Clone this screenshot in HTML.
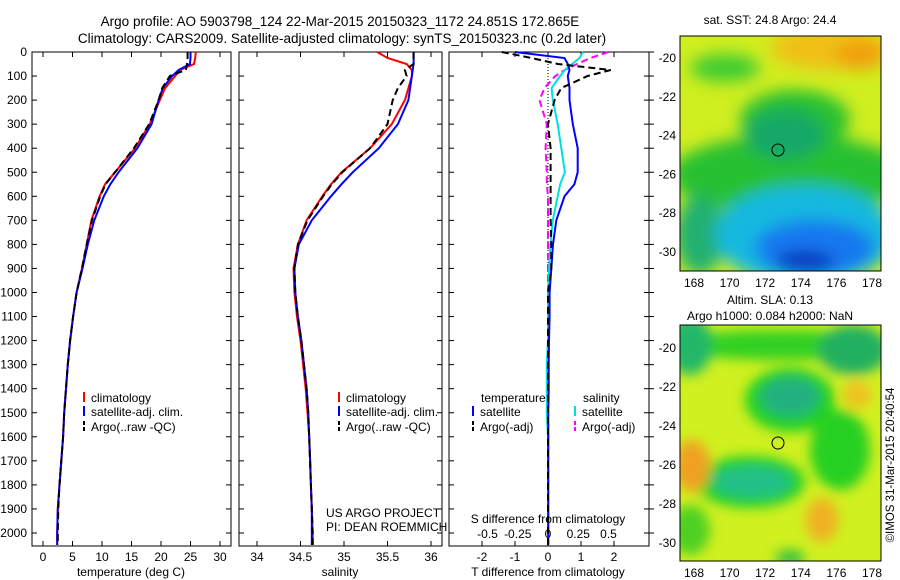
<!DOCTYPE html>
<html><head><meta charset="utf-8"><style>
body{margin:0;background:#fff;}
svg{display:block;font-family:"Liberation Sans",sans-serif;}
</style></head><body>
<svg id="fig" width="900" height="580" viewBox="0 0 900 580">
<defs>
<filter id="bl1" x="-50%" y="-50%" width="200%" height="200%"><feGaussianBlur stdDeviation="8"/></filter>
<filter id="bl2" x="-50%" y="-50%" width="200%" height="200%"><feGaussianBlur stdDeviation="6"/></filter>
<clipPath id="c1"><rect x="680" y="36" width="201" height="235"/></clipPath>
<clipPath id="c2"><rect x="680" y="325" width="201" height="236"/></clipPath>
</defs>
<text x="340" y="26" font-size="13.5" text-anchor="middle">Argo profile: AO 5903798_124 22-Mar-2015 20150323_1172 24.851S 172.865E</text>
<text x="342" y="43" font-size="13.5" text-anchor="middle">Climatology: CARS2009. Satellite-adjusted climatology: synTS_20150323.nc (0.2d later)</text>
<g id="axes"></g>
<g id="lines"></g>

<g clip-path="url(#c1)">
<rect x="680" y="36" width="201" height="235" fill="#d0ee20"/>
<g filter="url(#bl1)">
<ellipse cx="830" cy="48" rx="60" ry="22" fill="#f0c018"/>
<ellipse cx="860" cy="55" rx="25" ry="15" fill="#f0a010"/>
<ellipse cx="725" cy="68" rx="35" ry="14" fill="#40cc30"/>
<ellipse cx="790" cy="175" rx="120" ry="40" fill="#28c030"/>
<ellipse cx="795" cy="120" rx="55" ry="30" fill="#28c030"/>
<ellipse cx="785" cy="135" rx="40" ry="25" fill="#18a868"/>
<ellipse cx="700" cy="235" rx="25" ry="40" fill="#20b070"/>
<ellipse cx="805" cy="235" rx="90" ry="50" fill="#18b8e0"/>
<ellipse cx="815" cy="248" rx="60" ry="28" fill="#1878f0"/>
<ellipse cx="805" cy="262" rx="30" ry="12" fill="#0838c0"/>
</g>
<circle cx="778" cy="150" r="6" fill="none" stroke="#000"/>
</g>
<rect x="680" y="36" width="201" height="235" fill="none" stroke="#000"/>
<text x="770" y="24" font-size="12" text-anchor="middle">sat. SST: 24.8 Argo: 24.4</text>

<g clip-path="url(#c2)">
<rect x="680" y="325" width="201" height="236" fill="#d0f020"/>
<g filter="url(#bl2)">
<ellipse cx="780" cy="345" rx="110" ry="15" fill="#30d020"/>
<ellipse cx="690" cy="345" rx="22" ry="30" fill="#20b868"/>
<ellipse cx="853" cy="350" rx="35" ry="25" fill="#20b060"/>
<ellipse cx="790" cy="400" rx="45" ry="32" fill="#20d020"/>
<ellipse cx="790" cy="397" rx="30" ry="20" fill="#20b080"/>
<ellipse cx="840" cy="450" rx="30" ry="40" fill="#28d020"/>
<ellipse cx="750" cy="482" rx="55" ry="26" fill="#20d020"/>
<ellipse cx="752" cy="482" rx="40" ry="16" fill="#20c088"/>
<ellipse cx="690" cy="530" rx="20" ry="25" fill="#50d020"/>
<ellipse cx="692" cy="466" rx="18" ry="26" fill="#f0a020"/>
<ellipse cx="822" cy="520" rx="16" ry="22" fill="#f0b020"/>
<ellipse cx="857" cy="395" rx="14" ry="14" fill="#f0c020"/>
<ellipse cx="790" cy="558" rx="15" ry="8" fill="#30c040"/>
</g>
<circle cx="778" cy="443" r="6" fill="none" stroke="#000"/>
</g>
<rect x="680" y="325" width="201" height="236" fill="none" stroke="#000"/>
<text x="770" y="304" font-size="12" text-anchor="middle">Altim. SLA: 0.13</text>
<text x="770" y="320" font-size="12" text-anchor="middle">Argo h1000: 0.084 h2000: NaN</text>
<text transform="translate(894,465) rotate(-90)" font-size="11.5" text-anchor="middle">©IMOS 31-Mar-2015 20:40:54</text>

<text x="326" y="517" font-size="12">US ARGO PROJECT</text>
<text x="326" y="531" font-size="12">PI: DEAN ROEMMICH</text>
</svg>
<script>
// depth levels (dbar)
const depths = [0,25,50,75,100,150,200,300,400,500,550,600,700,800,900,1000,1100,1200,1300,1400,1500,1600,1700,1800,1900,2000,2050];
const tempClim = [25.9,25.8,25.6,23.2,22.4,20.7,19.8,18.1,15.6,12.2,10.5,9.6,8.2,7.4,6.6,5.7,5.1,4.6,4.2,3.9,3.6,3.4,3.1,2.8,2.5,2.4,2.4];
const tempSat  = [25.0,25.0,24.9,23.0,21.9,20.3,19.6,18.4,16.0,12.8,11.4,10.3,8.7,7.6,6.7,5.7,5.1,4.6,4.2,3.9,3.6,3.4,3.1,2.8,2.5,2.4,2.4];
const tempArgo = [24.5,24.5,24.4,24.2,21.5,20.2,19.6,18.0,15.4,12.2,10.6,9.7,8.3,7.4,6.6,5.7,5.1,4.6,4.2,3.9,3.6,3.4,3.1,2.8,2.6,2.5,2.5];
const salClim = [35.38,35.5,35.72,35.78,35.78,35.74,35.7,35.55,35.3,34.97,34.85,34.75,34.57,34.47,34.42,34.43,34.46,34.5,34.53,34.56,34.58,34.6,34.61,34.62,34.63,34.64,34.64];
const salSat  = [35.8,35.8,35.8,35.79,35.78,35.76,35.74,35.62,35.4,35.1,34.97,34.85,34.63,34.48,34.43,34.44,34.47,34.51,34.54,34.57,34.59,34.6,34.61,34.62,34.63,34.63,34.63];
const salArgo = [35.8,35.8,35.8,35.7,35.72,35.62,35.56,35.5,35.3,34.98,34.86,34.76,34.58,34.47,34.43,34.44,34.47,34.51,34.54,34.57,34.59,34.6,34.61,34.62,34.63,34.64,34.64];
const dTsat  = [-1.0,0.5,0.6,0.65,0.6,0.65,0.65,0.75,0.9,0.9,0.8,0.5,0.25,0.15,0.1,0.05,0.05,0.03,0.02,0.02,0.01,0.01,0.01,0.01,0.01,0.01,0.01];
const dTargo = [-1.4,-0.5,0.3,1.9,1.2,0.4,0.2,0.0,0.08,0.08,0.08,0.08,0.08,0.1,0.1,0.0,0.0,0.0,0.0,0.0,0.0,0.0,0.0,0.0,0.0,0.0,0.0];
const dSsat  = [0.29,0.26,0.2,0.14,0.1,0.03,0.04,0.08,0.11,0.14,0.1,0.08,0.04,0.02,0.01,0.0,0.0,0.0,-0.01,-0.01,-0.01,0.0,0.0,0.0,0.0,0.0,0.0];
const dSargo = [0.5,0.35,0.24,0.14,0.06,-0.03,-0.07,-0.01,-0.02,-0.01,-0.01,0.0,0.0,0.0,0.0,0.0,0.0,0.0,0.0,0.0,0.0,0.0,0.0,0.0,0.0,0.0,0.0];
const depthTicks = [0,100,200,300,400,500,600,700,800,900,1000,1100,1200,1300,1400,1500,1600,1700,1800,1900,2000];
const tempTicks = [0,5,10,15,20,25,30];
const salTicks = [34,34.5,35,35.5,36];
const dTTicks = [-2,-1,0,1,2];
const dSTicks = [-0.5,-0.25,0,0.25,0.5];
const mapLon = [168,170,172,174,176,178];
const mapLat = [-20,-22,-24,-26,-28,-30];

const NS="http://www.w3.org/2000/svg";
const ax=document.getElementById('axes'), ln=document.getElementById('lines');
function mk(tag,attrs,parent){const e=document.createElementNS(NS,tag);for(const k in attrs)e.setAttribute(k,attrs[k]);parent.appendChild(e);return e;}
const yD=d=>52+d*0.2405;
const xT=t=>43+t*5.9;
const xS=s=>257+(s-34)*87;
const xDT=t=>548+t*33;
const xDS=s=>548+s*121;
const TOP=52,BOT=546;
const panels=[[32,231],[239,442],[449,649]];
panels.forEach((p,i)=>{
  const r=mk('rect',{x:p[0],y:TOP,width:p[1]-p[0],height:BOT-TOP,fill:'none',stroke:'#000'},ax);
  
  
  depthTicks.forEach(d=>{
    mk('line',{x1:p[0],x2:p[0]+5,y1:yD(d),y2:yD(d),stroke:'#000'},ax);
    mk('line',{x1:p[1],x2:p[1]-5,y1:yD(d),y2:yD(d),stroke:'#000'},ax);
    if(i==2) mk('line',{x1:p[1],x2:p[1]+5,y1:yD(d),y2:yD(d),stroke:'#000'},ax);
  });
});
depthTicks.forEach(d=>{
  const t=mk('text',{x:27,y:yD(d)+4,'font-size':12,'text-anchor':'end'},ax);t.textContent=d;
  
  
});
function xticks(ticks,f,p,y,lab){
  ticks.forEach(v=>{
    mk('line',{x1:f(v),x2:f(v),y1:TOP,y2:TOP+5,stroke:'#000'},ax);
    mk('line',{x1:f(v),x2:f(v),y1:BOT,y2:BOT-5,stroke:'#000'},ax);
    const t=mk('text',{x:f(v),y:y,'font-size':12,'text-anchor':'middle'},ax);t.textContent=lab?lab(v):v;
    
    
  });
}
xticks(tempTicks,xT,0,561);
xticks(salTicks,xS,1,561);
xticks(dTTicks,xDT,2,561);
dSTicks.forEach(v=>{const t=mk('text',{x:xDS(v),y:538,'font-size':12,'text-anchor':'middle'},ax);t.textContent=v;
  
  });
[['temperature (deg C)',131,'temperature-axis-title'],['salinity',340,'salinity-axis-title'],['T difference from climatology',548,'t-diff-axis-title']].forEach(a=>{
  const t=mk('text',{x:a[1],y:576,'font-size':12,'text-anchor':'middle'},ax);t.textContent=a[0];
  
  
});
const st=mk('text',{x:548,y:523,'font-size':12,'text-anchor':'middle'},ax);st.textContent='S difference from climatology';


const z=mk('line',{x1:xDT(0),x2:xDT(0),y1:yD(0),y2:BOT,stroke:'#000','stroke-dasharray':'1,2'},ax);



function prof(vals,f,color,dash,name){
  const pts=vals.map((v,i)=>f(v).toFixed(1)+','+yD(depths[i]).toFixed(1)).join(' ');
  const a={points:pts,fill:'none',stroke:color,'stroke-width':2};
  if(dash)a['stroke-dasharray']='7,4';
  const e=mk('polyline',a,ln);
  
  
}
prof(tempClim,xT,'#ff0000',false,'temp-climatology-line');
prof(tempSat,xT,'#0000ff',false,'temp-satellite-line');
prof(tempArgo,xT,'#000',true,'temp-argo-line');
prof(salClim,xS,'#ff0000',false,'sal-climatology-line');
prof(salSat,xS,'#0000ff',false,'sal-satellite-line');
prof(salArgo,xS,'#000',true,'sal-argo-line');
prof(dSargo,xDS,'#ff00ff',true,'s-diff-argo-line');
prof(dSsat,xDS,'#00e0e0',false,'s-diff-satellite-line');
prof(dTsat,xDT,'#0000ff',false,'t-diff-satellite-line');
prof(dTargo,xDT,'#000',true,'t-diff-argo-line');

function leg(x,y,color,dash,label){
  const a={x1:x,x2:x,y1:y-10,y2:y,stroke:color,'stroke-width':2};
  if(dash)a['stroke-dasharray']='4,2';
  const l=mk('line',a,ax);
  
  
  const t=mk('text',{x:x+7,y:y,'font-size':12},ax);t.textContent=label;
  
  
}
leg(84,402,'#ff0000',false,'climatology');
leg(84,416,'#0000ff',false,'satellite-adj. clim.');
leg(84,431,'#000',true,'Argo(..raw -QC)');
leg(339,402,'#ff0000',false,'climatology');
leg(339,416,'#0000ff',false,'satellite-adj. clim.');
leg(339,431,'#000',true,'Argo(..raw -QC)');
const lt=mk('text',{x:481,y:402,'font-size':12},ax);lt.textContent='temperature';


const ls=mk('text',{x:583,y:402,'font-size':12},ax);ls.textContent='salinity';


leg(473,416,'#0000ff',false,'satellite');
leg(473,431,'#000',true,'Argo(-adj)');
leg(575,416,'#00e0e0',false,'satellite');
leg(575,431,'#ff00ff',true,'Argo(-adj)');

function mapAxes(top,bot,yLat0,yStep,lonY){
  mapLon.forEach(lo=>{
    const x=694+(lo-168)*17.8;
    mk('line',{x1:x,x2:x,y1:top,y2:top+4,stroke:'#000'},ax);
    mk('line',{x1:x,x2:x,y1:bot,y2:bot-4,stroke:'#000'},ax);
    const t=mk('text',{x:x,y:lonY,'font-size':12,'text-anchor':'middle'},ax);t.textContent=lo;
    
    
  });
  mapLat.forEach((la,i)=>{
    const y=yLat0+i*yStep;
    mk('line',{x1:680,x2:684,y1:y,y2:y,stroke:'#000'},ax);
    mk('line',{x1:881,x2:877,y1:y,y2:y,stroke:'#000'},ax);
    const t=mk('text',{x:676,y:y+4,'font-size':12,'text-anchor':'end'},ax);t.textContent=la;
    
    
  });
}
mapAxes(36,271,58,38.8,287);
mapAxes(325,561,348,39,577);
</script>
</body></html>
